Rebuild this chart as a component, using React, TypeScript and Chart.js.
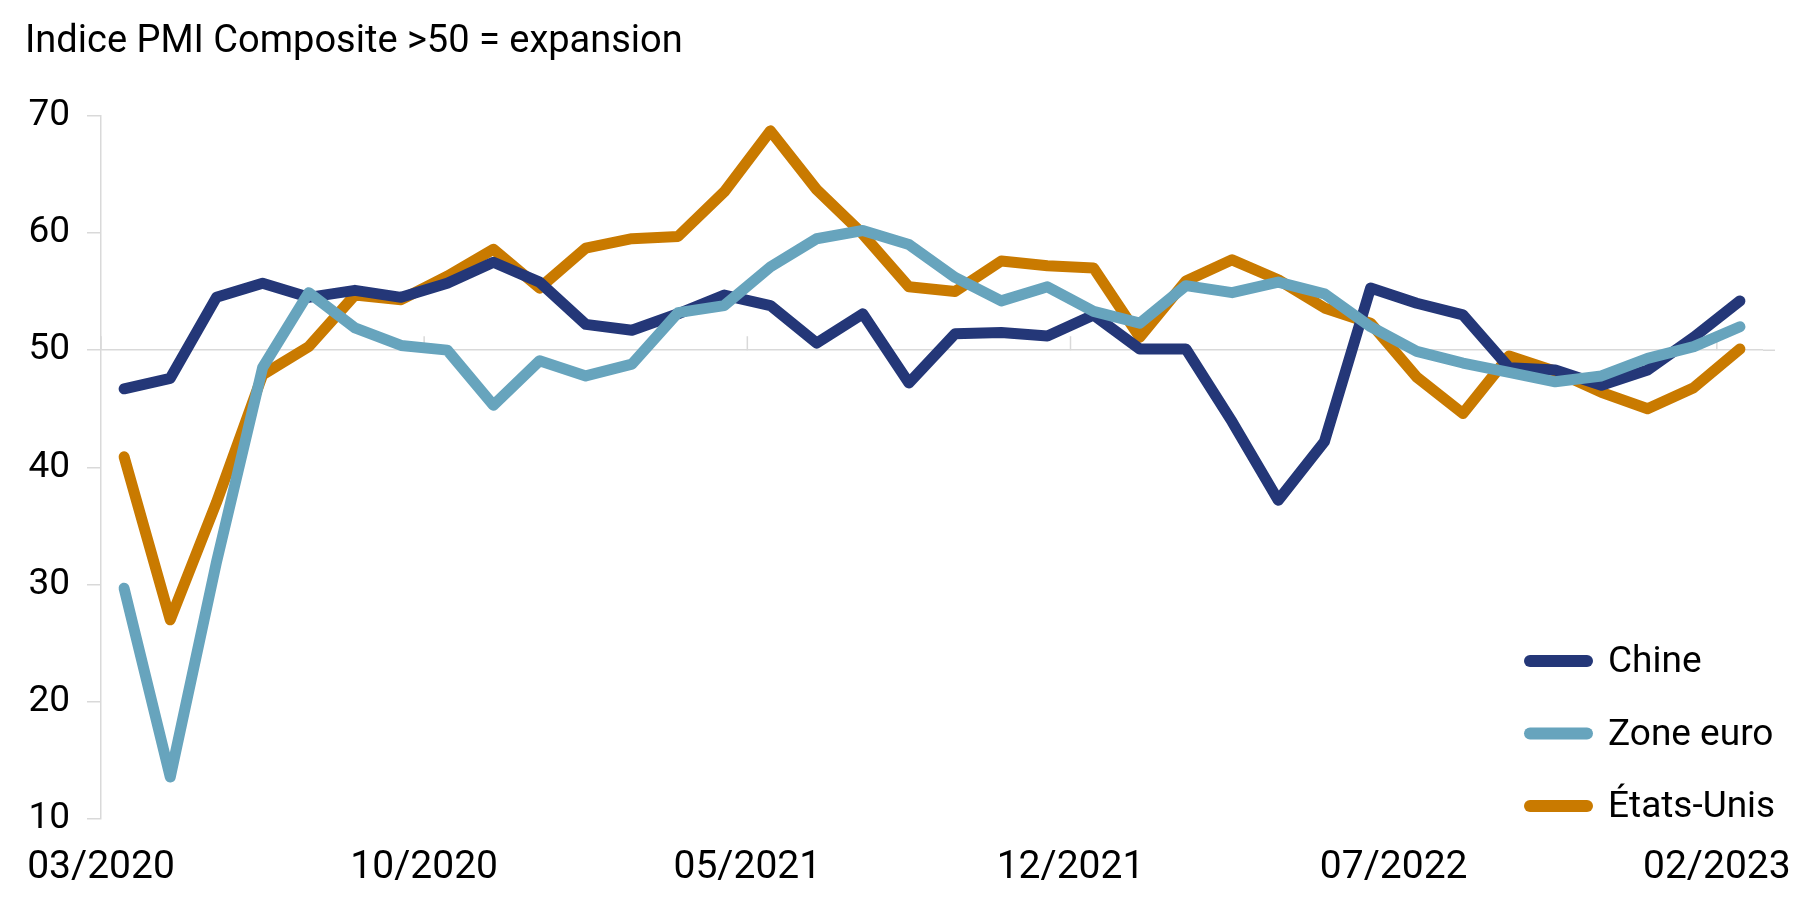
import React, { useEffect, useRef } from "react";
import { Chart, registerables } from "chart.js";

Chart.register(...registerables);

// mois : 03/2020 -> 02/2023
const months = [
  "03/2020", "04/2020", "05/2020", "06/2020", "07/2020", "08/2020", "09/2020", "10/2020", "11/2020", "12/2020",
  "01/2021", "02/2021", "03/2021", "04/2021", "05/2021", "06/2021", "07/2021", "08/2021", "09/2021", "10/2021",
  "11/2021", "12/2021", "01/2022", "02/2022", "03/2022", "04/2022", "05/2022", "06/2022", "07/2022", "08/2022",
  "09/2022", "10/2022", "11/2022", "12/2022", "01/2023", "02/2023",
];

const chine = [
  46.7, 47.6, 54.5, 55.7, 54.5, 55.1, 54.5, 55.7, 57.5, 55.8, 52.2, 51.7, 53.1, 54.7, 53.8, 50.6, 53.1, 47.2,
  51.4, 51.5, 51.2, 53.0, 50.1, 50.1, 43.9, 37.2, 42.2, 55.3, 54.0, 53.0, 48.5, 48.3, 47.0, 48.3, 51.1, 54.2,
];
const zoneEuro = [
  29.7, 13.6, 31.9, 48.5, 54.9, 51.9, 50.4, 50.0, 45.3, 49.1, 47.8, 48.8, 53.2, 53.8, 57.1, 59.5, 60.2, 59.0,
  56.2, 54.2, 55.4, 53.3, 52.3, 55.5, 54.9, 55.8, 54.8, 52.0, 49.9, 48.9, 48.1, 47.3, 47.8, 49.3, 50.3, 52.0,
];
const etatsUnis = [
  40.9, 27.0, 37.0, 47.9, 50.3, 54.7, 54.3, 56.3, 58.6, 55.3, 58.7, 59.5, 59.7, 63.5, 68.7, 63.7, 59.9, 55.4,
  55.0, 57.6, 57.2, 57.0, 51.1, 55.9, 57.7, 56.0, 53.6, 52.3, 47.7, 44.6, 49.5, 48.2, 46.4, 45.0, 46.8, 50.1,
];

const yTicks = [10, 20, 30, 40, 50, 60, 70];
const xTickIndex = [0, 7, 14, 21, 28, 35];

const FONT = "Roboto";
const GRID = "#d9d9d9";

// petits traits verticaux sur la ligne des 50 (+ petit prolongement à droite)
const midTicks = {
  id: "midTicks",
  beforeDatasetsDraw(chart: any) {
    const { ctx, scales, chartArea } = chart;
    const x = scales.x;
    const y50 = scales.y.getPixelForValue(50);
    ctx.save();
    ctx.strokeStyle = GRID;
    ctx.lineWidth = 1.5;
    ctx.beginPath();
    x.ticks.forEach((t: any) => {
      const px = x.getPixelForValue(t.value);
      ctx.moveTo(px, y50);
      ctx.lineTo(px, y50 - 14);
    });
    ctx.moveTo(chartArea.right, y50);
    ctx.lineTo(chartArea.right + 12, y50);
    ctx.stroke();
    ctx.restore();
  },
};

// légende dans le graphique, en bas à droite
const insideLegend = {
  id: "insideLegend",
  afterDraw(chart: any) {
    const { ctx } = chart;
    ctx.save();
    ctx.font = `37px ${FONT}`;
    ctx.textBaseline = "middle";
    chart.data.datasets.forEach((ds: any, i: number) => {
      const yy = 661 + i * 72.5;
      ctx.strokeStyle = ds.borderColor;
      ctx.lineWidth = 12;
      ctx.lineCap = "round";
      ctx.beginPath();
      ctx.moveTo(1530, yy);
      ctx.lineTo(1587, yy);
      ctx.stroke();
      ctx.fillStyle = "#000";
      ctx.fillText(ds.label, 1608, yy + 2);
    });
    ctx.restore();
  },
};

const toPoints = (vals: number[]) => vals.map((v, i) => ({ x: i + 0.5, y: v }));

const App = () => {
  const canvasRef = useRef<HTMLCanvasElement>(null);

  useEffect(() => {
    const ctx = canvasRef.current as HTMLCanvasElement;
    const line = (label: string, vals: number[], color: string, order: number) => ({
      label,
      data: toPoints(vals),
      borderColor: color,
      backgroundColor: color,
      borderWidth: 11,
      borderCapStyle: "round",
      borderJoinStyle: "round",
      pointRadius: 0,
      tension: 0,
      order,
    });

    const config: any = {
      type: "line",
      data: {
        datasets: [
          line("Chine", chine, "#243778", 1),
          line("Zone euro", zoneEuro, "#67a4bd", 0),
          line("États-Unis", etatsUnis, "#c97a00", 2),
        ],
      },
      options: {
        animation: false,
        responsive: false,
        devicePixelRatio: 1,
        layout: { padding: { top: 0, left: 25, right: 37, bottom: 18 } },
        plugins: {
          legend: { display: false },
          tooltip: { enabled: false },
          title: {
            display: true,
            text: "Indice PMI Composite >50 = expansion",
            align: "start",
            color: "#000",
            font: { family: FONT, size: 38, weight: "normal" },
            padding: { top: 20, bottom: 50 },
          },
        },
        scales: {
          x: {
            type: "linear",
            min: 0,
            max: months.length,
            grid: { display: false, drawTicks: false },
            border: { display: false },
            afterBuildTicks: (s: any) => {
              s.ticks = xTickIndex.map((v) => ({ value: v }));
            },
            afterFit: (s: any) => {
              // Chart.js compte le padding deux fois
              s.height -= s.options.ticks.padding;
              s.paddingLeft = 0;
              s.paddingRight = 0;
            },
            ticks: {
              autoSkip: false,
              maxRotation: 0,
              padding: 26,
              color: "#000",
              font: { family: FONT, size: 39 },
              callback: (v: any) => months[v],
            },
          },
          y: {
            min: 10,
            max: 70,
            afterBuildTicks: (s: any) => {
              s.ticks = yTicks.map((v) => ({ value: v }));
            },
            afterFit: (s: any) => {
              s.width = 76;
            },
            grid: {
              color: (c: any) => (c.tick && c.tick.value === 50 ? GRID : "rgba(0,0,0,0)"),
              tickColor: GRID,
              tickLength: 14,
              lineWidth: 1.5,
            },
            border: { color: GRID, width: 1.5 },
            ticks: {
              padding: 17,
              color: "#000",
              font: { family: FONT, size: 37 },
            },
          },
        },
      },
      plugins: [midTicks, insideLegend],
    };

    const chart = new Chart(ctx, config);
    return () => chart.destroy();
  }, []);

  return (
    <div style={{ position: "absolute", left: 0, top: 0, width: 1800, height: 910, background: "#fff" }}>
      <canvas ref={canvasRef} width={1800} height={910}></canvas>
    </div>
  );
};

export default App;
